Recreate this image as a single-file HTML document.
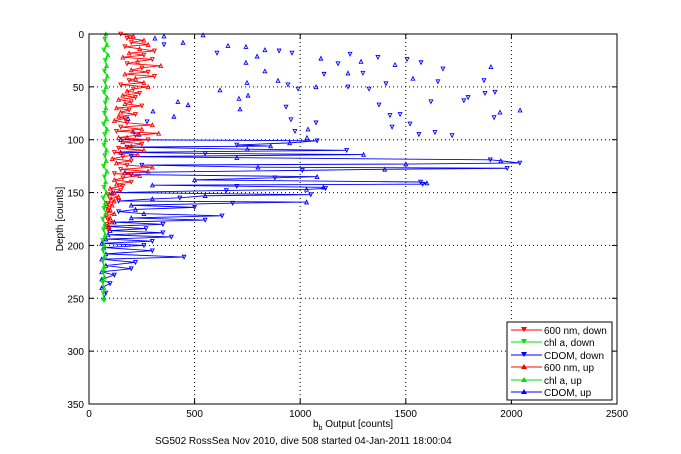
<!DOCTYPE html>
<html><head><meta charset="utf-8"><style>
body{margin:0;background:#fff;}
svg{display:block;font-family:"Liberation Sans",Arial,sans-serif;}
</style></head><body>
<svg id="chart" width="681" height="454" viewBox="0 0 681 454"></svg>
<script>
const xTicks=[0,500,1000,1500,2000,2500];
const yTicks=[0,50,100,150,200,250,300,350];
// CDOM scattered shallow samples
const cdomScatV=[540,658,743,833,900,961,1098,1236,1368,1506,1572,1903,1676,1449,1288,1179,1113,1226,1297,1534,1652,1870,1406,1326,1226,1075,990,942,895,833,743,796,606,748,620,753,710,715,933,956,975,1037,1075,1032,1373,1425,1473,1435,1520,1562,1638,1719,1619,1775,1795,1875,1922,1946,1918,2041,312,355,445,355,421,469,402,303,275,185,208,237,180];
const cdomScatD=[1,11,12,15,16,18,23,19,22,24,27,31,33,29,26,28,38,37,37,42,45,44,47,52,50,50,52,48,44,35,27,21,18,46,53,58,61,71,69,81,92,90,84,98,67,77,76,88,85,95,93,96,64,63,60,56,55,74,79,72,4,2,8,10,64,67,78,73,83,80,92,95,98];
const cdomScatUp=[1,1,1,1,0,0,1,0,0,0,0,1,0,1,1,0,0,1,0,1,0,0,0,0,0,1,0,0,1,1,1,1,0,1,1,1,1,1,0,0,0,1,0,1,0,0,0,0,0,0,0,0,0,0,0,0,0,1,0,1,1,1,1,0,1,1,1,1,0,1,1,1,1];
// CDOM continuous deep profile
const cdomD=[100,101,103,105,106,107,109,110,112,113,114,116,117,119,120,122,123,124,126,127,128,129,131,133,135,136,138,140,141,142,143,144,145,146,147,148,150,152,153,155,156,158,159,160,162,164,166,168,170,172,174,176,178,180,182,184,186,188,190,192,194,196,198,200,202,205,208,211,213,216,219,222,225,228,232,236,240,245,250];
const cdomV=[150,1080,950,700,860,180,750,1220,150,550,1300,200,700,1900,1950,2040,1500,250,800,1980,1400,1010,170,200,1080,880,500,1570,1600,1580,300,700,1110,1120,1030,650,110,1050,550,430,300,140,1030,680,200,500,220,140,260,630,200,550,120,350,80,270,100,350,90,390,80,300,60,260,70,300,80,450,60,220,80,200,60,120,60,100,60,80,70];
// 600 nm
const redD=[0,2,4,6,8,10,12,14,16,18,20,22,24,26,28,30,32,34,36,38,40,42,44,46,48,50,52,54,56,58,60,62,64,66,68,70,72,74,76,78,80,82,84,86,88,90,92,94,96,98,100,102,104,106,108,110,112,114,116,118,120,122,124,126,128,130,132,134,136,138,140,142,144,146,148,150,152,154,156,158,160,162,164,166,168,170,172,174,176,178,180,182,185];
const redV=[150,210,180,260,200,280,170,240,310,190,260,160,300,230,180,340,250,200,280,170,310,220,190,260,150,280,210,180,240,160,220,140,200,170,250,130,190,150,220,140,170,120,180,300,150,250,130,330,220,140,280,160,250,200,140,260,120,230,160,110,200,130,180,300,150,280,120,240,160,120,200,130,160,100,150,120,90,140,100,120,90,110,85,100,90,120,80,100,90,110,85,95,90];
// chl a
const grnD=[0,5,10,15,20,25,30,35,40,45,50,55,60,65,70,75,80,85,90,95,100,105,110,115,120,125,130,135,140,145,150,155,160,165,170,175,180,185,190,195,200,205,210,215,220,225,230,235,240,245,250,252];
const grnV=[80,75,85,70,90,77,83,73,87,75,81,71,85,77,80,73,83,69,85,75,79,71,83,75,81,69,85,73,79,71,83,67,77,71,80,65,75,69,77,65,73,67,75,65,71,67,73,65,71,67,69,71];

const X0=89,X1=617,Y0=34,Y1=404;
const xs=v=>X0+v/2500*(X1-X0);
const ys=d=>Y0+d/350*(Y1-Y0);
const svg=document.getElementById('chart');
const NS='http://www.w3.org/2000/svg';
function mk(t,a,p){const e=document.createElementNS(NS,t);for(const k in a)e.setAttribute(k,a[k]);(p||svg).appendChild(e);return e;}
function tri(cx,cy,up,col,g){const s=1.8;const pts=up?`${cx},${cy-s} ${cx-s},${cy+s} ${cx+s},${cy+s}`:`${cx},${cy+s} ${cx-s},${cy-s} ${cx+s},${cy-s}`;return mk('polygon',{points:pts,fill:'none',stroke:col,'stroke-width':0.9},g);}

const plot=mk('rect',{x:X0,y:Y0,width:X1-X0,height:Y1-Y0,fill:'#fff',stroke:'none'});

const grid=mk('g',{stroke:'#000','stroke-width':1,'stroke-dasharray':'1,3'});

xTicks.forEach(t=>{if(t>0&&t<2500)mk('line',{x1:xs(t),x2:xs(t),y1:Y0,y2:Y1},grid);});
yTicks.forEach(t=>{if(t>0&&t<350)mk('line',{x1:X0,x2:X1,y1:ys(t),y2:ys(t)},grid);});

// blue
const bg=mk('g',{});
mk('polyline',{points:cdomD.map((d,i)=>xs(cdomV[i])+','+ys(d)).join(' '),fill:'none',stroke:'#00f','stroke-width':0.9},bg);
cdomD.forEach((d,i)=>tri(xs(cdomV[i]),ys(d),i%2==0,'#00f',bg));
cdomScatD.forEach((d,i)=>tri(xs(cdomScatV[i]),ys(d),cdomScatUp[i]==1,'#00f',bg));
// red
const rg=mk('g',{});
mk('polyline',{points:redD.map((d,i)=>xs(redV[i])+','+ys(d)).join(' '),fill:'none',stroke:'#f00','stroke-width':0.9},rg);
redD.forEach((d,i)=>tri(xs(redV[i]),ys(d),i%2==1,'#f00',rg));
// green
const gg=mk('g',{});
mk('polyline',{points:grnD.map((d,i)=>xs(grnV[i])+','+ys(d)).join(' '),fill:'none',stroke:'#00e000','stroke-width':1.2},gg);
grnD.forEach((d,i)=>tri(xs(grnV[i]),ys(d),i%2==0,'#00e000',gg));

// axes box
const ax=mk('rect',{x:X0,y:Y0,width:X1-X0,height:Y1-Y0,fill:'none',stroke:'#000','stroke-width':1});

xTicks.forEach(t=>{mk('line',{x1:xs(t),x2:xs(t),y1:Y1,y2:Y1-5,stroke:'#000'});mk('line',{x1:xs(t),x2:xs(t),y1:Y0,y2:Y0+5,stroke:'#000'});
 const l=mk('text',{x:xs(t),y:Y1+13,'font-size':10,'text-anchor':'middle'});l.textContent=t;});
yTicks.forEach(t=>{mk('line',{x1:X0,x2:X0+5,y1:ys(t),y2:ys(t),stroke:'#000'});mk('line',{x1:X1,x2:X1-5,y1:ys(t),y2:ys(t),stroke:'#000'});
 const l=mk('text',{x:X0-5,y:ys(t)+4,'font-size':10,'text-anchor':'end'});l.textContent=t;});
</script>
<svg style="position:absolute;left:0;top:0" width="681" height="454">
<text x="63" y="219" font-size="10" text-anchor="middle" transform="rotate(-90 63 219)" font-family="Liberation Sans, sans-serif">Depth [counts]</text>
<text x="353" y="427" font-size="10" text-anchor="middle" font-family="Liberation Sans, sans-serif">b<tspan font-size="7" dy="3">b</tspan><tspan dy="-3"> Output [counts]</tspan></text>
<text x="155" y="444" font-size="10" font-family="Liberation Sans, sans-serif">SG502 RossSea Nov 2010, dive 508 started 04-Jan-2011 18:00:04</text>
<g font-size="10" font-family="Liberation Sans, sans-serif">
<rect x="507" y="322" width="105" height="78" fill="#fff" stroke="#000"/>
<g><line x1="511" x2="542" y1="330" y2="330" stroke="#f00"/><polygon points="524,332 521,327 527,327" fill="#f00"/><text x="544" y="334">600 nm, down</text></g>
<g><line x1="511" x2="542" y1="342" y2="342" stroke="#00e000"/><polygon points="524,344 521,339 527,339" fill="#00e000"/><text x="544" y="346">chl a, down</text></g>
<g><line x1="511" x2="542" y1="355" y2="355" stroke="#00f"/><polygon points="524,357 521,352 527,352" fill="#00f"/><text x="544" y="359">CDOM, down</text></g>
<g><line x1="511" x2="542" y1="367" y2="367" stroke="#f00"/><polygon points="524,364 521,369 527,369" fill="#f00"/><text x="544" y="371">600 nm, up</text></g>
<g><line x1="511" x2="542" y1="380" y2="380" stroke="#00e000"/><polygon points="524,377 521,382 527,382" fill="#00e000"/><text x="544" y="384">chl a, up</text></g>
<g><line x1="511" x2="542" y1="392" y2="392" stroke="#00f"/><polygon points="524,389 521,394 527,394" fill="#00f"/><text x="544" y="396">CDOM, up</text></g>
</g>
</svg>
</body></html>
